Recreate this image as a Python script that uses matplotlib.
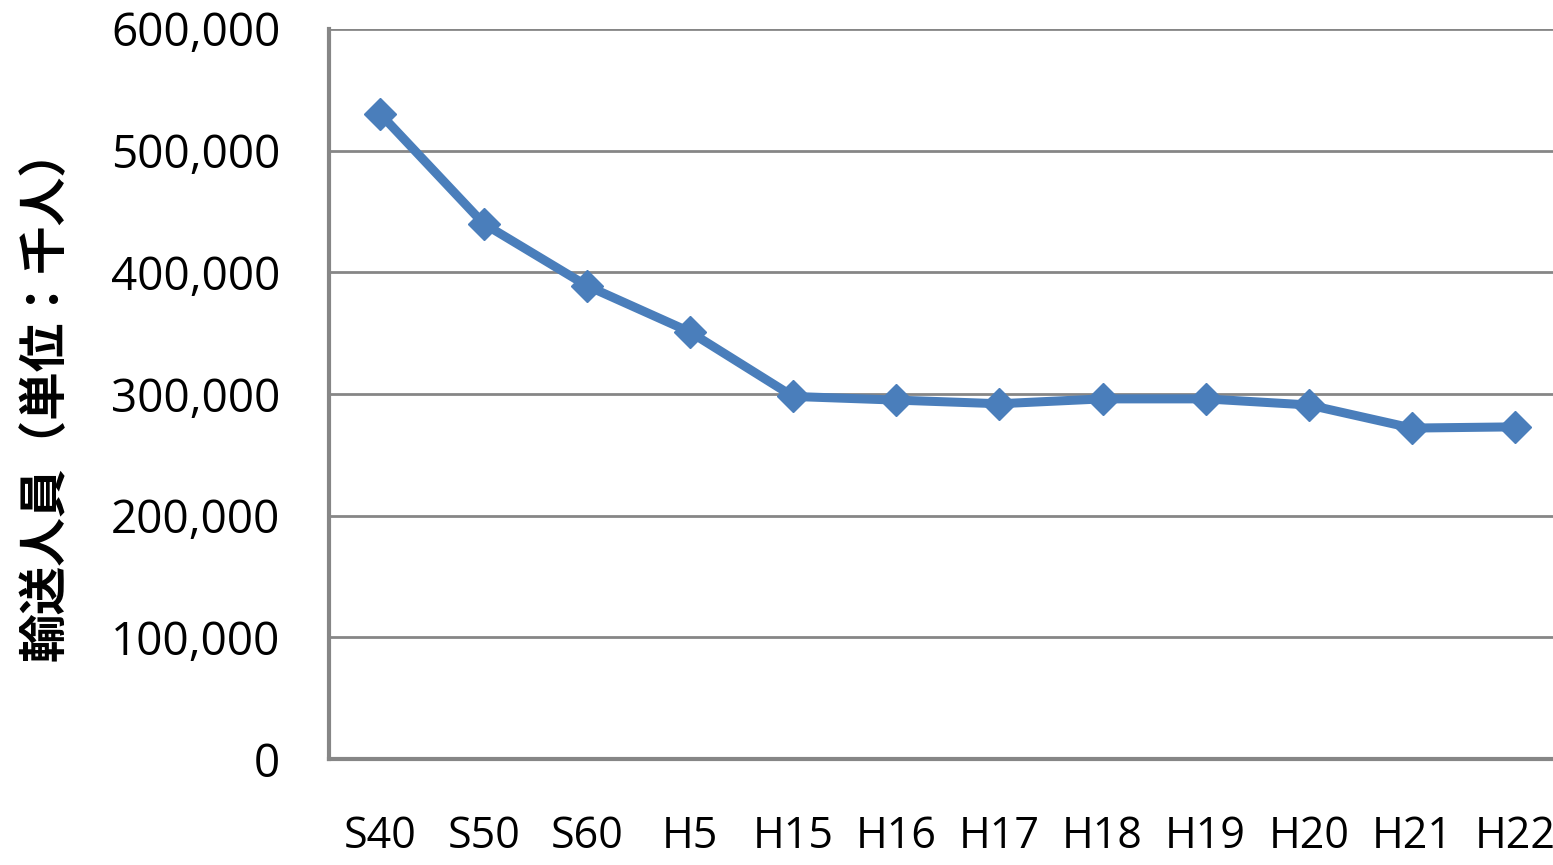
import matplotlib
matplotlib.use("Agg")
import matplotlib.pyplot as plt
from matplotlib.ticker import FuncFormatter

# 年度別 輸送人員 (千人)
years = ["S40", "S50", "S60", "H5", "H15", "H16", "H17", "H18", "H19", "H20", "H21", "H22"]
riders = [530000, 440000, 389000, 351000, 298000, 295000, 292000, 296000, 296000, 291000, 272000, 273000]

plt.rcParams['font.family'] = ['Open Sans', 'Noto Sans CJK JP', 'DejaVu Sans']

fig = plt.figure(figsize=(15.53, 8.65), dpi=100)
ax = fig.add_axes([0.2118, 0.1225, 0.797, 0.844])

x = range(len(years))
ax.plot(x, riders, color="#4A7EBB", linewidth=6.5, marker="D", markersize=16,
        markerfacecolor="#4A7EBB", markeredgecolor="#4A7EBB", zorder=3, clip_on=False)

ax.set_xlim(-0.5, len(years) - 0.5)
ax.set_ylim(0, 600000)
ax.set_yticks(range(0, 600001, 100000))
ax.yaxis.set_major_formatter(FuncFormatter(lambda v, p: f"{int(v):,}"))
ax.set_xticks(list(x))
ax.set_xticklabels(years)

ax.grid(axis="y", color="#868686", linewidth=2)
ax.set_axisbelow(True)
for s in ["top", "right"]:
    ax.spines[s].set_visible(False)
for s in ["left", "bottom"]:
    ax.spines[s].set_color("#868686")
    ax.spines[s].set_linewidth(3)

ax.tick_params(axis="y", length=0, pad=35, labelsize=33)
ax.tick_params(axis="x", length=0, pad=40, labelsize=31)

ax.set_ylabel("輸送人員（単位：千人）", family=['Noto Sans CJK JP'], fontweight="bold",
              fontsize=35, va="center")
ax.yaxis.set_label_coords(-0.229, 0.5)

fig.savefig("out.png", dpi=100)
